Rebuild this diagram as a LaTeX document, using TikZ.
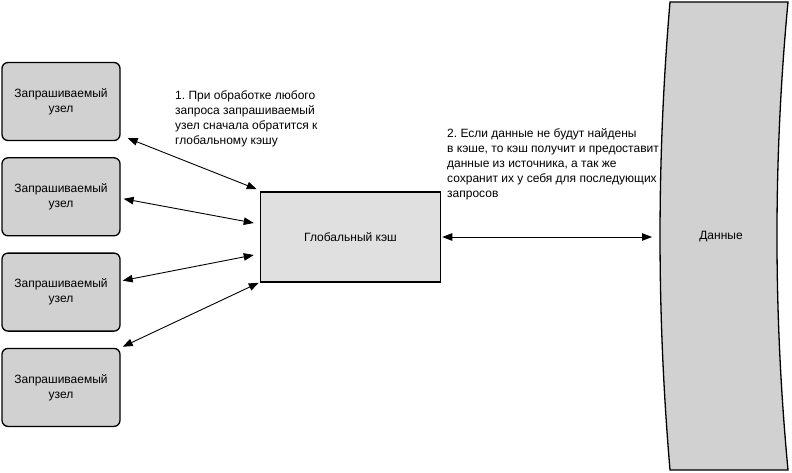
\documentclass[tikz,border=0pt]{standalone}
\usepackage{fontspec}
\setmainfont{Liberation Sans}
\frenchspacing
\usepackage{tikz}
\usetikzlibrary{positioning,arrows.meta}
\tikzstyle{request}=[rectangle, draw=black, line width=1.3pt, rounded corners=6pt, fill=gray!36,
        text centered, align=center, minimum width=118pt, minimum height=78pt]
\tikzstyle{cachebox}=[rectangle, draw=black, line width=1.5pt, fill=gray!24,
        text centered, minimum width=180pt, minimum height=90pt]
\tikzstyle{link}=[{Triangle[length=10pt,width=7.5pt]}-{Triangle[length=10pt,width=7.5pt]}, line width=0.9pt]
\tikzstyle{note}=[anchor=north west, align=left, inner sep=0pt]

\begin{document}
\begin{tikzpicture}[x=1pt, y=-1pt, node distance=16pt, font={\fontsize{12pt}{15pt}\selectfont}]
        \useasboundingbox (0,0) rectangle (792,473);
        % requesting nodes
        \node (node1) [request] at (61,101.5) {Запрашиваемый\\узел};
        \node (node2) [request, below=of node1] {Запрашиваемый\\узел};
        \node (node3) [request, below=of node2] {Запрашиваемый\\узел};
        \node (node4) [request, below=of node3] {Запрашиваемый\\узел};
        % global cache
        \node (cache) [cachebox] at (350.5,237) {Глобальный кэш};
        % data source
        \draw[line width=1.3pt, fill=gray!36] (670,2) .. controls (656.7,158) and (656.7,314) .. (670,470)
          -- (788,470) .. controls (773.3,314) and (773.3,158) .. (788,2) -- cycle;
        \node (data) at (721,237) {Данные};
        \coordinate (dataleft) at (652,237);
        % notes
        \node (step1) [note] at (175,90) {1. При обработке любого\\запроса запрашиваемый\\узел сначала обратится к\\глобальному кэшу};
        \node (step2) [note] at (447,128) {2. Если данные не будут найдены\\в кэше, то кэш получит и предоставит\\данные из источника, а так же\\сохранит их у себя для последующих\\запросов};
        % links
        \draw[link] ([xshift=7pt,yshift=3pt]node1.south east) -- ([xshift=-3pt,yshift=2pt]cache.north west);
        \draw[link] ([xshift=3pt,yshift=-2pt]node2.east) -- ([xshift=-6pt,yshift=14pt]cache.west);
        \draw[link] ([xshift=2pt,yshift=11.5pt]node3.east) -- ([xshift=-6pt,yshift=-18pt]cache.west);
        \draw[link] ([xshift=2pt,yshift=1pt]node4.north east) -- ([xshift=-1pt]cache.south west);
        \draw[link] ([xshift=1pt]cache.east) -- (dataleft);
\end{tikzpicture}
\end{document}
